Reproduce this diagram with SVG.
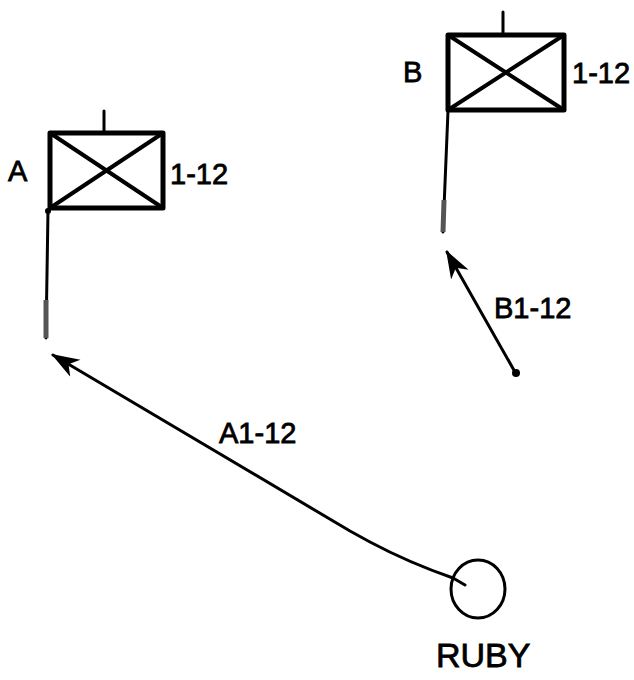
<svg xmlns="http://www.w3.org/2000/svg" width="634" height="680" viewBox="0 0 634 680">
<style>
.ln{fill:none;stroke:#000;stroke-width:3;stroke-linecap:round;stroke-linejoin:round}
.dg{fill:none;stroke:#000;stroke-width:4;stroke-linecap:round}
.bx{fill:none;stroke:#000;stroke-width:5;stroke-linejoin:round}
.t{font-family:"Liberation Sans",Arial,sans-serif;font-size:29px;fill:#000;stroke:#000;stroke-width:0.8}
</style>
<defs>
<marker id="ah" viewBox="0 0 28 22" refX="26" refY="11" markerWidth="28" markerHeight="22" orient="auto" markerUnits="userSpaceOnUse">
<path d="M28,11 L0,1 L8,11 L0,21 Z" fill="#000"/>
</marker>
</defs>
<rect width="634" height="680" fill="#fff"/>
<g id="unitA">
<rect class="bx" x="50" y="133" width="113" height="75"/>
<path class="dg" d="M50,133 L163,208 M163,133 L50,208"/>
<path class="ln" d="M104,111 L104,133"/>
<path class="ln" d="M48,210 L46,338"/>
<path d="M46,300 L46,338" stroke="#555" stroke-width="5" fill="none"/>
<circle cx="48" cy="211" r="3" fill="#000"/>
<text class="t" x="8" y="181">A</text>
<text class="t" x="170" y="184">1-12</text>
</g>
<g id="unitB">
<rect class="bx" x="448" y="35" width="116" height="75"/>
<path class="dg" d="M448,35 L564,110 M564,35 L448,110"/>
<path class="ln" d="M503,12 L503,35"/>
<path class="ln" d="M448,111 L443,232"/>
<path d="M444,200 L443,232" stroke="#555" stroke-width="5" fill="none"/>
<text class="t" x="403" y="82">B</text>
<text class="t" x="572" y="83">1-12</text>
</g>
<g id="ruby">
<ellipse cx="478" cy="589" rx="27" ry="29" fill="none" stroke="#000" stroke-width="3"/>
<text class="t" x="436" y="667" style="font-size:34px">RUBY</text>
</g>
<g id="connectors">
<path class="ln" d="M515,372 L447,252" marker-end="url(#ah)"/>
<circle cx="516" cy="373" r="4" fill="#000"/>
<path class="ln" d="M465,585 L453,578 C430,570 400,558 370,542 L350,531 L53,355" marker-end="url(#ah)"/>
<text class="t" x="494" y="318">B1-12</text>
<text class="t" x="219" y="443">A1-12</text>
</g>
</svg>
